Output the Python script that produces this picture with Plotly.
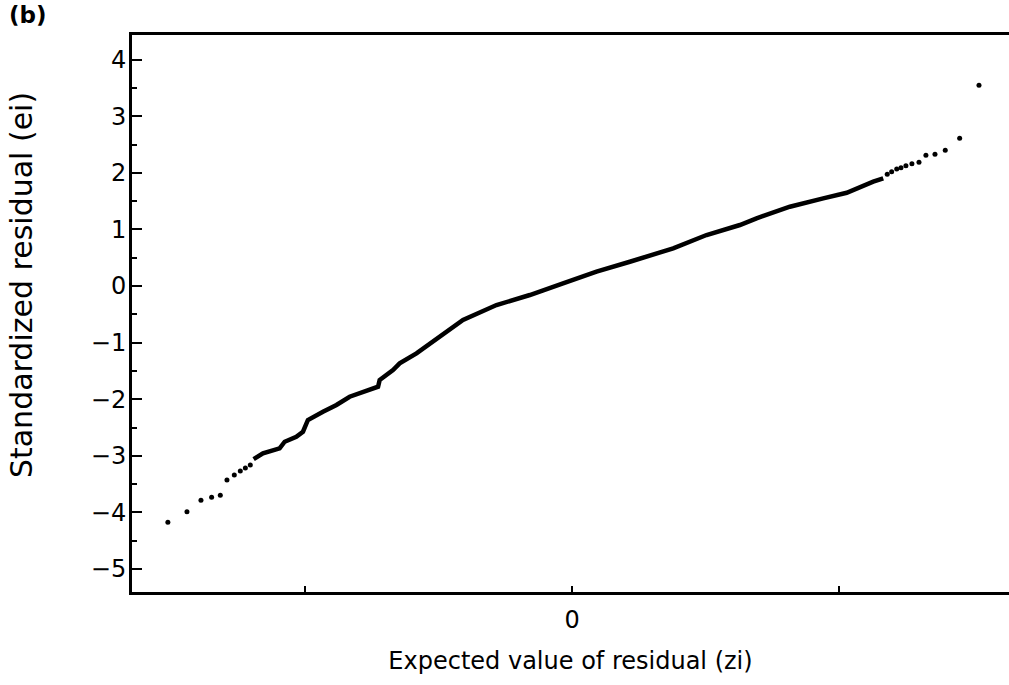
import plotly.graph_objects as go

# Sparse lower-tail points (expected normal score, standardized residual)
low_x = [-3.031, -2.888, -2.783, -2.703, -2.638, -2.588, -2.533, -2.488, -2.450, -2.413]
low_y = [-4.175, -3.988, -3.786, -3.733, -3.698, -3.428, -3.339, -3.269, -3.216, -3.163]

# Dense central body (points overlap into a continuous band)
mid_x = [-2.388, -2.318, -2.193, -2.155, -2.068, -2.018, -1.981, -1.930, -1.868, -1.767,
         -1.668, -1.455, -1.443, -1.343, -1.293, -1.167, -1.043, -0.930, -0.818, -0.567,
         -0.317, -0.068, 0.183, 0.433, 0.758, 1.008, 1.258, 1.383, 1.633, 1.883,
         2.059, 2.258, 2.333]
mid_y = [-3.057, -2.956, -2.867, -2.751, -2.663, -2.574, -2.367, -2.297, -2.221, -2.102,
         -1.956, -1.779, -1.661, -1.484, -1.366, -1.189, -0.984, -0.777, -0.601, -0.336,
         -0.159, 0.048, 0.253, 0.429, 0.666, 0.901, 1.078, 1.196, 1.401, 1.549,
         1.648, 1.843, 1.903]

# Sparse upper-tail points
high_x = [2.363, 2.396, 2.434, 2.466, 2.503, 2.548, 2.601, 2.653, 2.721, 2.798, 2.906, 3.051]
high_y = [1.973, 2.019, 2.067, 2.090, 2.125, 2.161, 2.186, 2.309, 2.327, 2.398, 2.610, 3.546]

y_ticks = [4, 3, 2, 1, 0, -1, -2, -3, -4, -5]
x_ticks = [-2, 0, 2]
x_ticktext = ["", "0", ""]

FONT = "DejaVu Sans"

fig = go.Figure()
fig.add_trace(go.Scatter(x=mid_x, y=mid_y, mode="lines",
                         line=dict(color="black", width=4.5), hoverinfo="skip"))
fig.add_trace(go.Scatter(x=low_x + high_x, y=low_y + high_y, mode="markers",
                         marker=dict(color="black", size=5), hoverinfo="skip"))

fig.update_layout(
    width=1009, height=685,
    margin=dict(l=132, r=0, t=35, b=93),
    paper_bgcolor="white", plot_bgcolor="white",
    showlegend=False,
    font=dict(family=FONT, color="black", size=24),
    annotations=[
        dict(text="<b>(b)</b>", xref="paper", yref="paper", x=-0.143, y=1.062,
             xanchor="left", yanchor="top", showarrow=False,
             font=dict(family=FONT, size=23, color="black")),
        dict(text="Standardized residual (ei)", xref="paper", yref="paper",
             x=-0.1266, y=0.551, xanchor="center", yanchor="middle",
             textangle=-90, showarrow=False,
             font=dict(family=FONT, size=30, color="black")),
    ],
)
fig.update_xaxes(range=[-3.30, 3.276], showgrid=False, zeroline=False,
                 showline=True, linecolor="black", linewidth=3, mirror=True,
                 tickvals=x_ticks, ticktext=x_ticktext, ticks="inside",
                 ticklen=6, tickwidth=2, tickcolor="black",
                 tickfont=dict(size=24), ticklabelstandoff=4,
                 title=dict(text="Expected value of residual (zi)", standoff=20,
                            font=dict(size=24)))
fig.update_yaxes(range=[-5.406, 4.435], showgrid=False, zeroline=False,
                 showline=True, linecolor="black", linewidth=3,
                 tickvals=y_ticks, ticks="inside", ticklen=10, tickwidth=2,
                 tickcolor="black", tickfont=dict(size=24), ticklabelstandoff=-2,
                 minor=dict(ticks="inside", ticklen=5, tickwidth=2, dtick=0.5,
                            tickcolor="black", tick0=0.5, showgrid=False))

fig.write_html("out.html")
